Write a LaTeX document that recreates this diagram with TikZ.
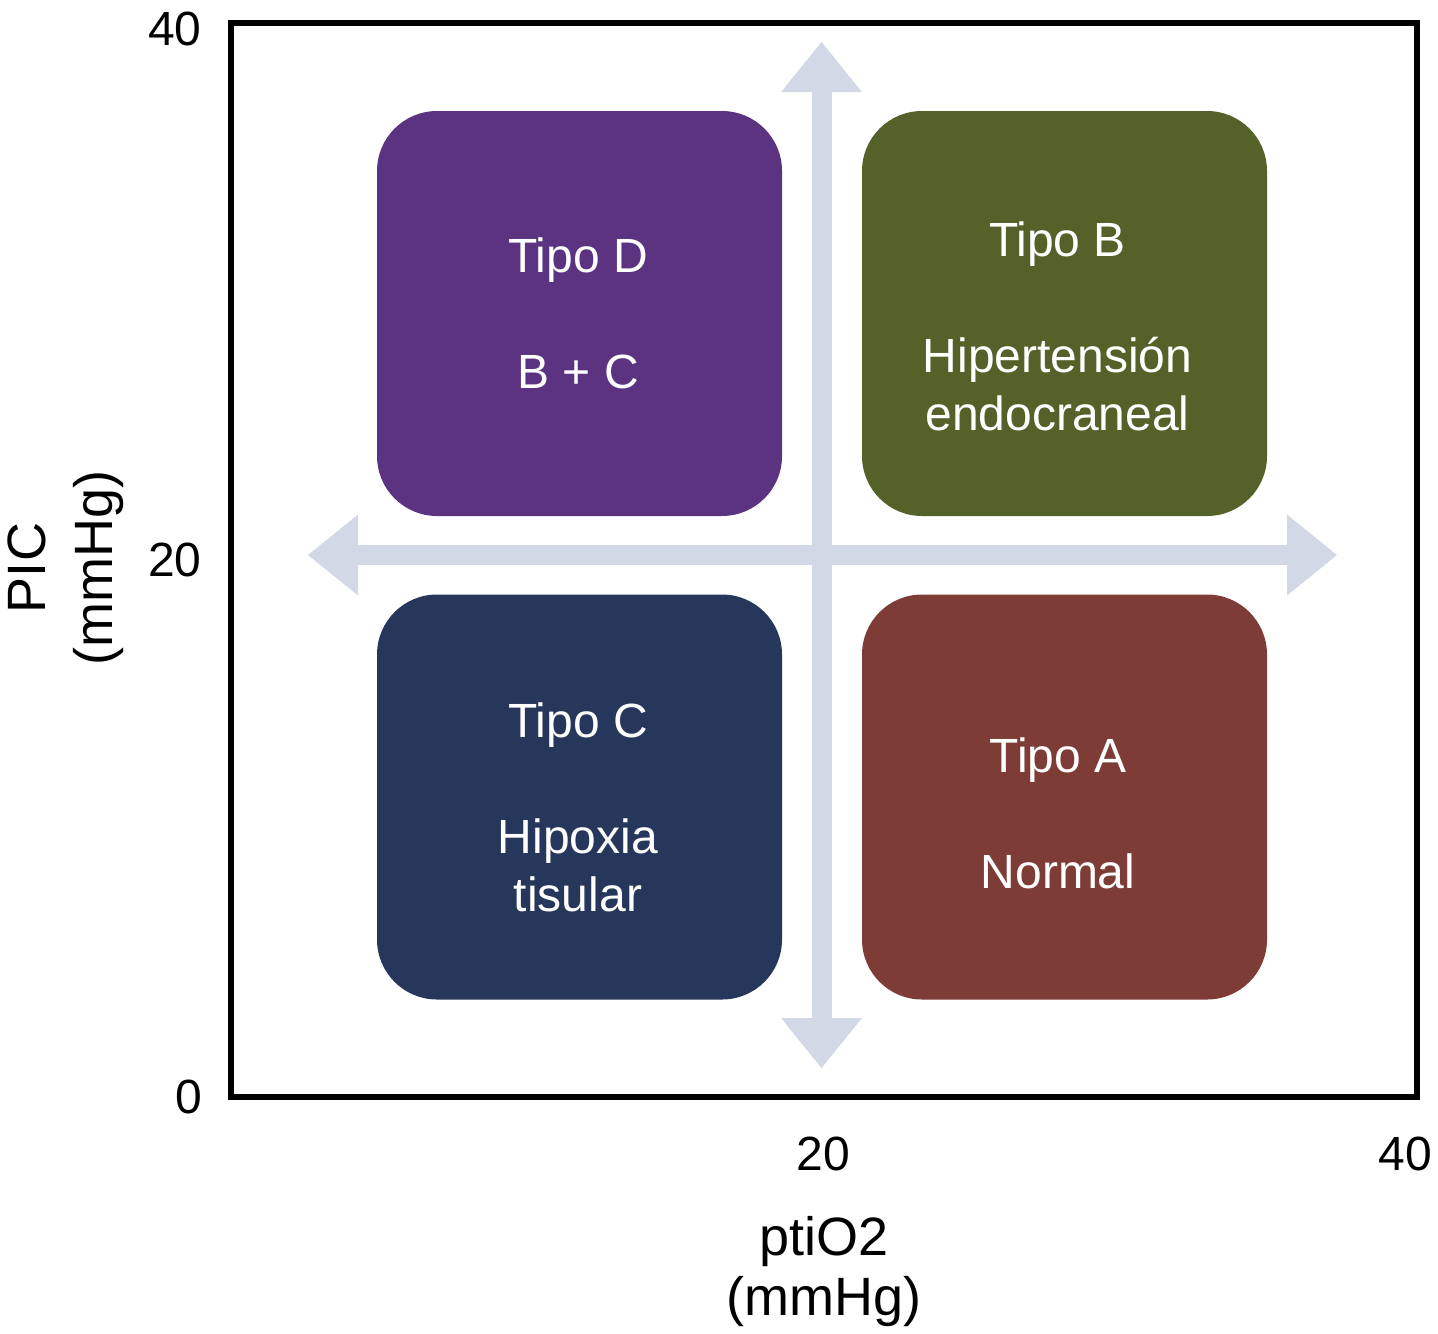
\documentclass[tikz,border=0pt]{standalone}
\usepackage{fontspec}
\setmainfont{Liberation Sans}
\definecolor{purplebox}{RGB}{92, 51, 128}
\definecolor{olivebox}{RGB}{84, 98, 42}
\definecolor{navybox}{RGB}{39, 54, 91}
\definecolor{brownbox}{RGB}{126, 60, 55}
\definecolor{arrowgray}{RGB}{211, 216, 231}
\usepackage{tikz}
\usetikzlibrary{arrows.meta}

\begin{document}
\begin{tikzpicture}[x=0.5pt, y=-0.5pt,
    quadbox/.style={rounded corners=30pt, minimum width=202.5pt, minimum height=202.5pt, inner sep=0pt},
    quadtext/.style={white, anchor=north, align=center, inner sep=0pt, font=\fontsize{24}{29}\selectfont},
    ticklabel/.style={inner sep=0pt, font=\fontsize{24}{29}\selectfont},
    axistitle/.style={inner sep=0pt, align=center, anchor=north},
    crossarrow/.style={arrowgray, line width=10pt,
      {Triangle[width=40.5pt, length=25pt, line width=0pt]}-{Triangle[width=40.5pt, length=25pt, line width=0pt]}}]
    \useasboundingbox (0,0) rectangle (1438,1333);
    % === Cross arrows ===
    \coordinate (top) at (821.5,42);
    \coordinate (bottom) at (821.5,1068);
    \coordinate (left) at (308,555);
    \coordinate (right) at (1337,555);
    \draw[crossarrow] (bottom) -- (top);
    \draw[crossarrow] (left) -- (right);
    % === Quadrant boxes ===
    \node[quadbox, fill=purplebox] (tipoD) at (579.5,313.5) {};
    \node[quadbox, fill=olivebox] (tipoB) at (1064.5,313.5) {};
    \node[quadbox, fill=navybox] (tipoC) at (579.5,797) {};
    \node[quadbox, fill=brownbox] (tipoA) at (1064.5,797) {};
    % Box texts
    \node[quadtext] (tipoDtext) at (578,237) {Tipo D\\[29pt]B + C};
    \node[quadtext] (tipoBtext) at (1057.5,221) {Tipo B\\[29pt]Hipertensión\\endocraneal};
    \node[quadtext] (tipoCtext) at (578,702) {Tipo C\\[29pt]Hipoxia\\tisular};
    \node[quadtext] (tipoAtext) at (1058,737) {Tipo A\\[29pt]Normal};
    % === Frame ===
    \draw[line width=3pt] (231,23) rectangle (1417,1097);
    % Tick labels
    \node[ticklabel, anchor=east] (y40) at (202,28.5) {40};
    \node[ticklabel, anchor=east] (y20) at (202,560) {20};
    \node[ticklabel, anchor=east] (y0) at (203,1096.5) {0};
    \node[ticklabel] (x20) at (823.5,1154) {20};
    \node[ticklabel] (x40) at (1405,1154) {40};
    % Axis titles
    \node[axistitle, font=\fontsize{27}{30}\selectfont] (xtitle) at (824,1216) {ptiO2\\(mmHg)};
    \node[axistitle, rotate=90, font=\fontsize{27}{33.5}\selectfont] (ytitle) at (7,568) {PIC\\(mmHg)};
\end{tikzpicture}
\end{document}
